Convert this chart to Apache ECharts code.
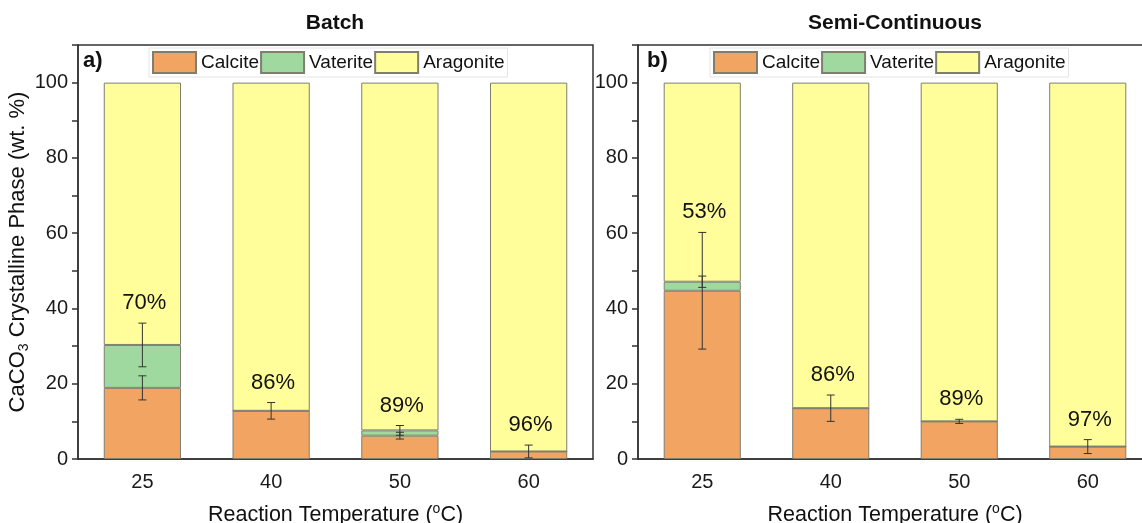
<!DOCTYPE html>
<html>
<head>
<meta charset="utf-8">
<script src="https://cdn.jsdelivr.net/npm/echarts@6/dist/echarts.min.js"></script>
<style>
  html, body { margin: 0; padding: 0; background: #fff; }
  #main { width: 1142px; height: 523px; }
</style>
</head>
<body>
<div id="main"></div>
<script>
// categories (reaction temperature, °C)
var categories = ['25', '40', '50', '60'];
var phases = ['Calcite', 'Vaterite', 'Aragonite'];

// a) Batch
var batchCalcite = [18.9, 12.8, 6.2, 2.0];
var batchVaterite = [11.4, 0, 1.4, 0];
var batchAragonite = [69.7, 87.2, 92.4, 98.0];
var batchCalciteErr = [3.2, 2.2, 0.9, 1.7];
var batchVateriteErr = [5.8, 0, 1.3, 0];
var batchLabels = ['70%', '86%', '89%', '96%'];

// b) Semi-Continuous
var semiCalcite = [44.7, 13.5, 10.0, 3.3];
var semiVaterite = [2.4, 0, 0, 0];
var semiAragonite = [52.9, 86.5, 90.0, 96.7];
var semiCalciteErr = [15.5, 3.5, 0.55, 1.85];
var semiVateriteErr = [1.5, 0, 0, 0];
var semiLabels = ['53%', '86%', '89%', '97%'];

var FONT = 'Arial, "Liberation Sans", sans-serif';
var colors = ['#F2A462', '#A0D99F', '#FFFE9A'];

function makeSeries(idx, calcite, vaterite, aragonite, calErr, vatErr, labels) {
  var stackName = 'stack' + idx;
  var vals = [calcite, vaterite, aragonite];
  var out = phases.map(function (p, k) {
    return {
      name: p,
      type: 'bar',
      stack: stackName,
      xAxisIndex: idx * 2,
      yAxisIndex: idx,
      barWidth: '60%',
      itemStyle: { color: colors[k], borderColor: '#7f7f6f', borderWidth: 1 },
      emphasis: { disabled: true },
      data: vals[k]
    };
  });
  // error bars + aragonite percentage label
  out.push({
    type: 'custom',
    xAxisIndex: idx * 2,
    yAxisIndex: idx,
    z: 10,
    silent: true,
    encode: { x: 0, y: 1 },
    data: categories.map(function (c, i) {
      return [i, calcite[i], calErr[i], calcite[i] + vaterite[i], vatErr[i]];
    }),
    renderItem: function (params, api) {
      var i = api.value(0);
      var x = api.coord([i, 0])[0];
      var children = [];
      var st = { stroke: '#333', lineWidth: 1 };
      function addErr(v, e) {
        var top = api.coord([i, v + e])[1];
        var bot = api.coord([i, v - e])[1];
        children.push({ type: 'line', shape: { x1: x, y1: top, x2: x, y2: bot }, style: st });
        children.push({ type: 'line', shape: { x1: x - 4, y1: top, x2: x + 4, y2: top }, style: st });
        children.push({ type: 'line', shape: { x1: x - 4, y1: bot, x2: x + 4, y2: bot }, style: st });
      }
      addErr(api.value(1), api.value(2));
      if (api.value(4) > 0) addErr(api.value(3), api.value(4));
      var topVal = Math.max(api.value(1) + api.value(2), api.value(3) + api.value(4));
      var ty = api.coord([i, topVal])[1] - 20;
      children.push({
        type: 'text',
        style: {
          text: labels[params.dataIndex], x: x + 2, y: ty,
          align: 'center', verticalAlign: 'middle',
          fontSize: 22, fontFamily: FONT, fill: '#111'
        }
      });
      return { type: 'group', children: children };
    }
  });
  return out;
}

function mainX(gi) {
  return {
    type: 'category', gridIndex: gi, data: categories,
    name: '{a|Reaction Temperature (}{p|o}{a|C)}',
    nameLocation: 'middle', nameGap: 43,
    nameTextStyle: {
      color: '#111', fontFamily: FONT,
      rich: {
        a: { fontSize: 21.5, lineHeight: 26, fontFamily: FONT, color: '#111' },
        p: { fontSize: 14, lineHeight: 14, verticalAlign: 'top', fontFamily: FONT, color: '#111' }
      }
    },
    axisLine: { lineStyle: { color: '#333', width: 1.5 } },
    axisTick: { alignWithLabel: true, length: 8, lineStyle: { color: '#333', width: 1.5 } },
    axisLabel: { fontSize: 20, color: '#1a1a1a', fontFamily: FONT, margin: 13 }
  };
}
// second axis only for the short ticks between categories
function tickX(gi) {
  return {
    type: 'category', gridIndex: gi, data: categories, position: 'bottom',
    axisLine: { show: false },
    axisTick: { length: 4, lineStyle: { color: '#333', width: 1.5 } },
    axisLabel: { show: false }
  };
}
function yAx(gi, withName) {
  return {
    type: 'value', gridIndex: gi, min: 0, max: 110, interval: 10,
    name: withName ? '{a|CaCO}{s|3}{a| Crystalline Phase (wt. %)}' : '',
    nameLocation: 'middle', nameRotate: 90, nameGap: 45,
    nameTextStyle: {
      color: '#111', fontFamily: FONT,
      rich: {
        a: { fontSize: 22, lineHeight: 26, fontFamily: FONT, color: '#111' },
        s: { fontSize: 14, lineHeight: 14, verticalAlign: 'bottom', fontFamily: FONT, color: '#111' }
      }
    },
    splitLine: { show: false },
    axisLine: { show: true, lineStyle: { color: '#333', width: 1.5 } },
    axisTick: { show: true, length: 6, lineStyle: { color: '#333', width: 1.5 } },
    axisLabel: {
      fontSize: 20, color: '#1a1a1a', fontFamily: FONT, margin: 10,
      formatter: function (v) { return (v % 20 === 0 && v <= 100) ? String(v) : ''; }
    }
  };
}
function legend(left) {
  return {
    left: left, top: 48, orient: 'horizontal',
    data: phases, itemWidth: 43, itemHeight: 21, itemGap: 1,
    padding: [3, 3, 3, 3], borderColor: '#e4e4e4', borderWidth: 1,
    backgroundColor: '#fff',
    icon: 'rect',
    selectedMode: false,
    textStyle: { fontSize: 19, color: '#111', fontFamily: FONT }
  };
}

var chart = echarts.init(document.getElementById('main'));
var option = {
  animation: false,
  backgroundColor: '#fff',
  title: [
    { text: 'Batch', left: 335, top: 13, padding: 0, textAlign: 'center',
      textStyle: { fontSize: 21, fontWeight: 'bold', color: '#111', fontFamily: FONT } },
    { text: 'Semi-Continuous', left: 895, top: 13, padding: 0, textAlign: 'center',
      textStyle: { fontSize: 21, fontWeight: 'bold', color: '#111', fontFamily: FONT } }
  ],
  legend: [legend(149), legend(710)],
  grid: [
    { left: 78, right: 549, top: 45, bottom: 64, outerBoundsMode: 'none', show: true,
      borderColor: '#333', borderWidth: 1.5, backgroundColor: 'transparent' },
    { left: 638, right: -10, top: 45, bottom: 64, outerBoundsMode: 'none', show: true,
      borderColor: '#333', borderWidth: 1.5, backgroundColor: 'transparent' }
  ],
  xAxis: [mainX(0), tickX(0), mainX(1), tickX(1)],
  yAxis: [yAx(0, true), yAx(1, false)],
  graphic: [
    { type: 'text', left: 83, top: 50, style: { text: 'a)', fontSize: 22, fontWeight: 'bold', fontFamily: FONT, fill: '#111' } },
    { type: 'text', left: 647, top: 50, style: { text: 'b)', fontSize: 22, fontWeight: 'bold', fontFamily: FONT, fill: '#111' } }
  ],
  series: makeSeries(0, batchCalcite, batchVaterite, batchAragonite, batchCalciteErr, batchVateriteErr, batchLabels)
    .concat(makeSeries(1, semiCalcite, semiVaterite, semiAragonite, semiCalciteErr, semiVateriteErr, semiLabels))
};
chart.setOption(option);
</script>
</body>
</html>
